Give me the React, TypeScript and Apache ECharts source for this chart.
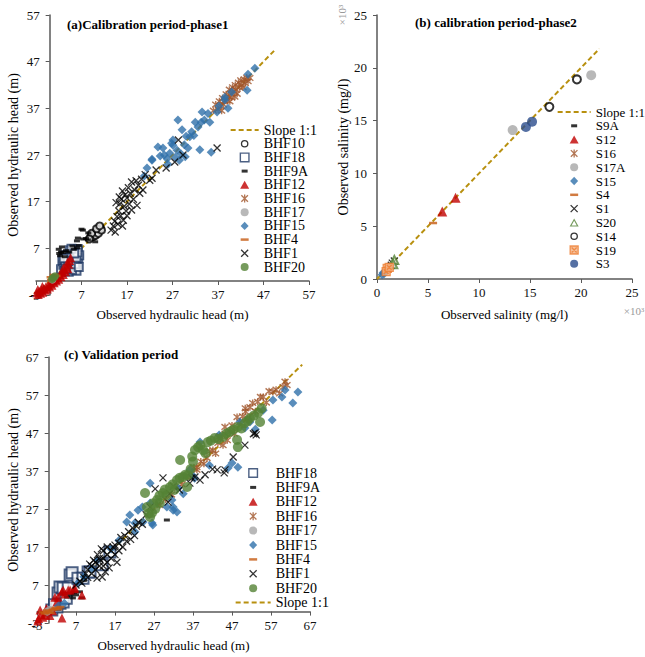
import React, { useEffect, useRef } from "react";
import * as echarts from "echarts";

type P = [number, number];

// ---------- Panel (a) calibration phase 1 ----------
const a_BHF10: P[] = [[9,9.4],[9.4,9.9],[9.8,10.1],[10.2,10.4],[10.5,10.8],[10.9,11],[11.2,11.3],[9.6,9.5],[10.1,9.8],[10.7,10.2],[11.4,10.9],[9.2,10.2],[10.3,11.2],[8.7,9],[11,11.8]];
const a_BHF18: P[] = [[2.5,2.5],[3,3.5],[3.3,2.2],[3.5,4.5],[3.8,3],[4,5.5],[4.2,2],[4.5,4],[4.7,6],[5,3],[5,5],[5.3,6.5],[5.5,2.5],[5.5,4.5],[5.8,5.8],[6,3.5],[6.2,6.8],[6.3,4.8],[4.4,6.6],[3.2,5.5],[6.5,5.5],[2.8,4.5],[5.9,2.2],[3.4,3.9],[3.9,4.9],[4.3,3.2],[4.6,5.2],[4.9,2.4],[5.2,4.2],[5.6,3.6],[5.9,5],[6.1,6.1],[4.1,4.3],[3.6,2.6],[4.8,6.9],[5.4,5.9],[6.4,3],[3.1,4.9]];
const a_BHF9A: P[] = [[2,6.8],[2.3,5.4],[2.5,6.2],[2.7,7.3],[3,6.1],[3.3,5.2],[2.1,5.9],[3.6,6.5],[4.3,6.2],[5,7.5],[5.3,6.8],[6,8.6],[6.4,7.6],[7.3,10.9],[7.4,9],[8,9.1],[8.4,8.8],[10,8.4],[6.2,9.2],[6,7.1],[8.5,10.3],[7,11.1]];
const a_BHF12: P[] = [[-2.8,-2.5],[-2.5,-2.9],[-2.3,-2.2],[-2,-2.6],[-1.8,-1.9],[-1.5,-2.4],[-1.3,-1.6],[-1,-2],[-0.8,-1.2],[-0.5,-1.7],[-0.3,-0.9],[0,-1.3],[0.2,-0.5],[0.5,-0.9],[0.7,0],[1,-0.4],[1.2,0.4],[1.5,0],[1.7,0.8],[2,0.4],[2.2,1.3],[2.5,0.9],[2.7,1.8],[3,1.4],[3.2,2.4],[3.5,2],[3.7,3],[4,2.6],[4.2,3.6],[4.4,4.4],[4.6,5],[3.9,4],[3,2.8],[-2.6,-1.8],[-1.6,-1.2]];
const a_BHF16: P[] = [[36,36.5],[36.5,37.8],[37,36.8],[37.3,38.5],[37.6,37.4],[38,39.2],[38.2,37.8],[38.5,38.6],[38.8,40],[39,38.8],[39.3,39.6],[39.5,41],[39.8,40.2],[40,39.3],[40.2,41.5],[40.5,40.6],[40.8,42],[41,41],[41.2,40.1],[41.5,42.5],[41.7,41.5],[42,43],[42.2,42],[42.5,41.5],[42.8,43.2],[43,42.4],[43.3,43.6],[43.6,42.8],[44,43.5],[37.8,36.5],[39.6,38.5],[40.7,39.5]];
const a_BHF17: P[] = [[1,0.9],[0.6,0.3]];
const a_BHF15: P[] = [[20.8,22.5],[21.4,24.2],[22.5,25.9],[22.5,26.1],[23.8,28.7],[24.9,28.5],[25.2,27],[25.8,26.2],[26.4,27.4],[26.8,29.5],[27.1,30.2],[27.1,29.1],[27.6,26.5],[28,28],[28.2,34.5],[28.5,25.9],[28.9,27.2],[29.1,32.4],[29.6,29.2],[30,31],[30.4,28.5],[30.8,30.9],[31.2,32],[31.7,31.2],[32,34],[32.6,33],[33,28.1],[33.3,34],[33.5,36.2],[34,34.5],[34.8,35.9],[35.2,34],[35.5,27.6],[36.8,36.2],[37.2,37.5],[38.5,38.8],[38.5,39.4],[39.2,37],[40,40.5],[43.4,40.9],[43.6,44.3],[45.1,45.6],[26,25],[24.3,26.8],[29.8,26.6]];
const a_BHF4: P[] = [[0.3,0.2],[0.9,1.3],[1.5,1.1],[0.2,0.8]];
const a_BHF1: P[] = [[13.5,10.9],[14,11.8],[14.3,12.8],[14.4,10.5],[14.8,13.8],[15,12.2],[15.2,15],[15.4,16.5],[15.3,18],[15.6,14],[15.8,17.5],[16,19.3],[16.2,13],[16.4,16],[16.6,18.5],[16.8,15],[17,17.8],[17,14],[17.3,20],[17.5,16.5],[17.7,18.8],[18,15.2],[18,21.2],[18.4,17.5],[18.7,19.5],[19,21.5],[19.2,16.2],[19.5,20.5],[19.8,18.8],[20.2,21.8],[20.5,19.5],[21,22.8],[22,21.6],[22.5,22],[23.4,23.8],[25.6,24.2],[27.5,25.5],[28.3,30.2],[29.3,27],[36.8,28.5],[14.6,16.8],[16,11.8]];
const a_BHF20: P[] = [[0.8,0.7],[1.2,1.0],[0.5,0.4]];
const a_slope: P[] = [[-3,-3],[49.5,49.5]];

// ---------- Panel (b) calibration phase 2 (x10^3 mg/l) ----------
const b_S9A: P[] = [[1.5,1.3]];
const b_S12: P[] = [[6.4,6.4],[7.7,7.7]];
const b_S16: P[] = [[1.3,1.2],[1.1,0.9]];
const b_S17A: P[] = [[13.3,14.1],[21,19.3]];
const b_S15: P[] = [[0.5,0.4],[0.6,0.6],[0.7,0.5]];
const b_S4: P[] = [[5.5,5.3]];
const b_S1: P[] = [[1.7,1.7],[1.4,1.3],[1.5,1.5]];
const b_S20: P[] = [[1.7,1.8],[1.6,1.4]];
const b_S14: P[] = [[16.9,16.3],[19.6,18.9]];
const b_S19: P[] = [[1.0,1.0],[0.9,0.7],[1.2,1.1]];
const b_S3: P[] = [[14.6,14.4],[15.2,14.9]];
const b_slope: P[] = [[0,0],[21.8,21.8]];

// ---------- Panel (c) validation ----------
const c_BHF18: P[] = [[0.8,0.4],[2.1,1.2],[2.9,2.2],[3.7,2.5],[2.4,4.9],[3.4,6.2],[2.9,6.5],[3.7,6.2],[5,6.2],[5.5,9.6],[6,10.2],[7.5,8.8],[8.8,8.8],[10.1,10.4],[10.6,10.4],[13.7,12.3],[15.7,15.7],[4.5,3.5],[1.5,1.8]];
const c_BHF9A: P[] = [[4.7,3.8],[5.5,4.3],[6.2,3.6],[7,4.4],[8.5,3.6],[4,4.6],[6.5,5],[8,5.2],[30.3,24.1],[9,8.2]];
const c_BHF12: P[] = [[-2.6,-1.8],[-2.2,0.4],[-2,-0.8],[-1.5,-1.5],[-1,-0.9],[-0.6,0.8],[-0.2,0.2],[0.3,-1],[1,0.2],[1.6,3.8],[2.1,2.5],[2.4,3.8],[3.4,5.2],[3.7,5.7],[3.4,-1.7],[5,5.7],[5.5,5.7],[6.5,6],[6.7,6.2],[8.5,4.4],[4.2,4.6],[-2.8,-2.5]];
const c_BHF16: P[] = [[28.5,28],[30,29.5],[31.5,30.8],[33,32.6],[34.2,33.5],[35.2,35.6],[36.3,35.4],[37.2,37.8],[38,37.3],[38,38],[39,39.5],[39.8,38.9],[40.6,40.4],[41.3,42.2],[42.1,42.5],[42.8,41.6],[43.4,44.4],[44,45.5],[44.7,43.8],[45.2,46.8],[45.8,45.1],[46.5,47.3],[47,49],[47.6,46.8],[48.3,51.2],[49,49.8],[49.7,51.4],[50.5,52.6],[51,50.8],[51.6,53.8],[52.3,54.9],[53,52.7],[53.6,55.2],[54.3,56.5],[55,56.5],[55.8,55],[56.5,58],[57.5,57.8],[58.3,58.4],[59.2,57.4],[60.1,59.1],[61.1,59.6],[60.6,60.5],[45.2,48.6],[43.9,46.2],[50.4,53.5]];
const c_BHF17: P[] = [[-0.4,0],[0.3,0.5]];
const c_BHF15: P[] = [[20,23.6],[20.8,25.4],[22.1,21],[22.1,23.3],[22.9,26.7],[24.2,23.6],[24,27.5],[26,33.8],[26,28.6],[26.5,23.3],[26.7,22.8],[30.3,27.5],[31.6,29.4],[31.9,27.5],[31.9,26.7],[32.9,26.2],[33.2,32.5],[34.5,31],[36.2,37.3],[36.7,36],[37.4,35.1],[38.8,44.6],[41.2,38.5],[46,37.8],[47,39.1],[48.5,38],[49,49.9],[50.3,48.3],[51.6,49.9],[53,48],[57.3,50.4],[57.5,55.7],[59.8,56.5],[60.6,58.3],[62.6,54.9],[63.9,57.8],[7.5,7.5],[9,9.2],[11,11.3],[12.5,13.5],[2.5,1.5],[4,2.2],[16,16.5],[18,18.7],[43.7,46.5],[55,53]];
const c_BHF4: P[] = [[-1,-0.5],[-0.5,0.3],[0,0],[0.5,-0.3],[1,0.5],[1.5,0.8],[2,1],[2.5,0.6],[3,1.2],[-1.5,-0.2]];
const c_BHF1: P[] = [[7,7],[8,8],[8.5,7.5],[9,9],[9.5,10],[10,9],[10,11],[10.5,12.5],[11,10],[11,12],[11.5,13.5],[12,11],[12,13],[12.4,8.8],[12.5,15],[13,12],[13,14],[13.2,13.6],[13.5,16.5],[13.7,9.1],[14,12],[14,14],[14,16],[14.5,10.5],[15,13],[15,15],[15,17],[15.5,11.5],[16,14],[16,16],[16.5,17],[17,15],[17,17.5],[17.5,13],[18,18],[18,16],[18.5,19.5],[19,17],[19.5,20],[20,18.5],[20.5,21],[21,19],[21.5,22],[22,20],[22.5,22.5],[23,23.5],[24,23],[25,25.5],[26,27.5],[27.3,32.3],[29.3,35.2],[30.6,28.8],[31,31],[32,33],[33.5,32],[36.2,33.8],[36.7,35.2],[37.5,35.4],[38.8,34.6],[40.1,36],[42,37.5],[43.2,37.3],[45.2,37.3],[45,36.5],[47.3,40.7],[50.3,43.8],[52.9,47],[53.2,46.5],[52.5,46.8]];
const c_BHF20: P[] = [[24.7,31.2],[25.2,27.5],[25.6,25.8],[26,24.9],[26.5,26],[26.8,28.5],[27.3,27],[27.8,29.4],[28.4,30.5],[28.5,28.6],[29.3,31.2],[29.8,32.1],[30.2,30.6],[31.1,32.8],[31.8,33.5],[32.2,32],[32.9,34.6],[33.6,35.2],[34.4,35.4],[35,36],[35.7,35.9],[35.5,32.8],[36.4,37.5],[37,39.5],[37.5,42.5],[38.3,43.3],[38.9,43.8],[39.6,42.5],[40.2,41.7],[40.8,44.6],[41.6,45],[42.6,45.7],[43.5,45.4],[44.7,46],[45.6,46.9],[46.5,47.3],[47.4,47.9],[48.3,45.2],[48.5,48.6],[48.5,43.3],[49.4,48.2],[50.3,49.6],[51,50.2],[51.6,50.9],[52.6,51.6],[53.7,52.3],[54.2,49.9],[54.6,53.5],[33.7,39.9],[36.8,40.8]];
const c_slope: P[] = [[-3,-3],[65,65]];

const HEAD_TITLE = "Observed hydraulic head (m)";
const SAL_TITLE = "Observed salinity (mg/l)";

const FONT = '"Liberation Serif", "Times New Roman", serif';
const RED = "#C00000";
const NAVY = "#1F3864";
const BROWN = "#A0552A";
const GRAY = "#A6A6A6";
const BLUE = "#2F70AA";
const ORANGE = "#C55A11";
const GREEN = "#548235";
const DKBLUE = "#2B4C8C";
const SLOPE = "#B8900F";

const STAR = "path://M1,1L9,9M9,1L1,9M5,0L5,10";
const CROSS = "path://M0,0L10,10M10,0L0,10";
const BOXX = "path://M0,0L10,0L10,10L0,10Z M2,2L8,8M8,2L2,8";

// legend icon helpers: a w x 10 box (the first two moves fix the icon's bounding box)
const IH = 10;
const box = (w: number, body: string) => `path://M0,0M${w},${IH}${body}`;
const icDash = (w: number, dw: number, dh: number) => {
  const c = w / 2, y = (IH - dh) / 2;
  return box(w, `M${c - dw / 2},${y}L${c + dw / 2},${y}L${c + dw / 2},${y + dh}L${c - dw / 2},${y + dh}Z`);
};
const icTri = (w: number) => { const c = w / 2; return box(w, `M${c - 4.5},9L${c},1L${c + 4.5},9Z`); };
const icDia = (w: number) => { const c = w / 2; return box(w, `M${c},0.8L${c + 4},5L${c},9.2L${c - 4},5Z`); };
const icSqRing = (w: number) => {
  const c = w / 2;
  return box(w, `M${c - 5},0L${c + 5},0L${c + 5},10L${c - 5},10Z M${c - 3.6},1.4L${c - 3.6},8.6L${c + 3.6},8.6L${c + 3.6},1.4Z`);
};
const icTriRing = (w: number) => {
  const c = w / 2;
  return box(w, `M${c - 4.5},9L${c},1L${c + 4.5},9Z M${c - 2.6},8L${c + 2.6},8L${c},3.4Z`);
};
const icCircle = (w: number, r = 4) => {
  const c = w / 2;
  return box(w, `M${c - r},5A${r},${r},0,1,1,${c + r},5A${r},${r},0,1,1,${c - r},5Z`);
};
const icRing = (w: number) => {
  const c = w / 2, r = 3.8, q = 2.5;
  return box(w, `M${c - r},5A${r},${r},0,1,1,${c + r},5A${r},${r},0,1,1,${c - r},5Z M${c - q},5A${q},${q},0,1,0,${c + q},5A${q},${q},0,1,0,${c - q},5Z`);
};
const icCross = (w: number) => { const c = w / 2; return box(w, `M${c - 3.5},1.5L${c + 3.5},8.5M${c + 3.5},1.5L${c - 3.5},8.5`); };
const icStar = (w: number) => { const c = w / 2; return box(w, `M${c - 3.3},1.7L${c + 3.3},8.3M${c + 3.3},1.7L${c - 3.3},8.3M${c},1L${c},9`); };
const icBoxX = (w: number) => {
  const c = w / 2;
  return box(w, `M${c - 4},1L${c + 4},1L${c + 4},9L${c - 4},9Z M${c - 2.5},2.5L${c + 2.5},7.5M${c + 2.5},2.5L${c - 2.5},7.5`);
};
const icSlope = (w: number) => {
  let d = "";
  for (let x = 0; x < w; x += 8) {
    const e = Math.min(x + 5, w);
    d += `M${x},4L${e},4L${e},6L${x},6Z`;
  }
  return box(w, d);
};

function sc(name: string, data: P[], gi: number, symbol: string, size: any, itemStyle: any) {
  return { type: "scatter", name, xAxisIndex: gi, yAxisIndex: gi, data, symbol, symbolSize: size, itemStyle, z: 3 };
}
function slope(data: P[], gi: number) {
  return {
    type: "line", name: "Slope 1:1", xAxisIndex: gi, yAxisIndex: gi, data, symbol: "none",
    lineStyle: { color: SLOPE, width: 2, type: [5, 3] }, itemStyle: { color: SLOPE }, z: 2,
  };
}
const st = (c: string, bw = 0) => (bw ? { color: c, borderColor: c, borderWidth: bw } : { color: c });

// the axis is moved (through offset) to the other axis' zero, with its labels
const zeroShift = (min: number, max: number, size: number) => (min < 0 ? -((0 - min) / (max - min)) * size : 0);

function xAx(gi: number, min: number, max: number, interval: number, name: string, gap: number, gridH: number, otherMin: number, otherMax: number) {
  return {
    type: "value", gridIndex: gi, min, max, interval, name, nameLocation: "middle", nameGap: gap,
    offset: zeroShift(otherMin, otherMax, gridH),
    nameTextStyle: { fontFamily: FONT, fontSize: 13, color: "#000" },
    axisLine: { show: true, onZero: false, lineStyle: { color: "#595959", width: 1.5 } },
    axisTick: { show: true, length: 4, lineStyle: { color: "#595959" } },
    axisLabel: { fontFamily: FONT, fontSize: 13, color: "#111", margin: 7 },
    splitLine: { show: false },
  };
}
function yAx(gi: number, min: number, max: number, interval: number, name: string, gap: number, gridW: number, otherMin: number, otherMax: number) {
  return {
    type: "value", gridIndex: gi, min, max, interval, name, nameLocation: "middle", nameGap: gap,
    offset: zeroShift(otherMin, otherMax, gridW),
    nameTextStyle: { fontFamily: FONT, fontSize: 14, color: "#000" },
    axisLine: { show: true, onZero: false, lineStyle: { color: "#595959", width: 1.5 } },
    axisTick: { show: true, length: 4, lineStyle: { color: "#595959" } },
    axisLabel: { fontFamily: FONT, fontSize: 13, color: "#111", margin: 10 },
    splitLine: { show: false },
  };
}
function legend(left: number, top: number, w: number, fs: number, gap: number, data: any[]) {
  return {
    left, top, orient: "vertical", itemWidth: w, itemHeight: IH, itemGap: gap, selectedMode: false,
    symbolKeepAspect: true,
    itemStyle: { borderWidth: 1.3 },
    textStyle: { fontFamily: FONT, fontSize: fs, color: "#000", lineHeight: 14 },
    data,
  };
}

export default function App() {
  const ref = useRef<HTMLDivElement>(null);
  useEffect(() => {
    if (!ref.current) return;
    const chart = echarts.init(ref.current, undefined, { renderer: "svg" });
    const LA = 28, LB = 33, LC = 35;
    const G = [
      { left: 36, top: 15, width: 273, height: 280 },
      { left: 377, top: 15, width: 255, height: 264 },
      { left: 37, top: 357, width: 273, height: 266 },
    ];
    const option: any = {
      animation: false,
      backgroundColor: "#fff",
      title: [
        { text: "(a)Calibration period-phase1", left: 62, top: 13, textStyle: { fontFamily: FONT, fontSize: 13, fontWeight: "bold", color: "#000" } },
        { text: "(b) calibration period-phase2", left: 410, top: 11, textStyle: { fontFamily: FONT, fontSize: 13, fontWeight: "bold", color: "#000" } },
        { text: "(c) Validation period", left: 59, top: 343, textStyle: { fontFamily: FONT, fontSize: 13, fontWeight: "bold", color: "#000" } },
      ],
      grid: G,
      xAxis: [
        xAx(0, -3, 57, 10, HEAD_TITLE, 26.5, G[0].height, -3, 57),
        xAx(1, 0, 25, 5, SAL_TITLE, 29, G[1].height, 0, 25),
        xAx(2, -3, 67, 10, HEAD_TITLE, 27, G[2].height, -3, 67),
      ],
      yAxis: [
        yAx(0, -3, 57, 10, HEAD_TITLE, 29.5, G[0].width, -3, 57),
        yAx(1, 0, 25, 5, SAL_TITLE, 26, G[1].width, 0, 25),
        yAx(2, -3, 67, 10, HEAD_TITLE, 28.5, G[2].width, -3, 67),
      ],
      legend: [
        legend(225, 118, LA, 14, -0.3, [
          { name: "Slope 1:1", icon: icSlope(LA) }, { name: "BHF10", icon: icRing(LA) }, { name: "BHF18", icon: icSqRing(LA) },
          { name: "BHF9A", icon: icDash(LA, 6, 3) }, { name: "BHF12", icon: icTri(LA) }, { name: "BHF16", icon: icStar(LA) },
          { name: "BHF17", icon: icCircle(LA) }, { name: "BHF15", icon: icDia(LA) }, { name: "BHF4", icon: icDash(LA, 8, 2.5) },
          { name: "BHF1", icon: icCross(LA) }, { name: "BHF20", icon: icCircle(LA) },
        ]),
        legend(552, 100, LB, 13, -0.2, [
          { name: "Slope 1:1", icon: icSlope(LB) }, { name: "S9A", icon: icDash(LB, 6, 3) }, { name: "S12", icon: icTri(LB) },
          { name: "S16", icon: icStar(LB) }, { name: "S17A", icon: icCircle(LB) }, { name: "S15", icon: icDia(LB) },
          { name: "S4", icon: icDash(LB, 8, 2.5) }, { name: "S1", icon: icCross(LB) }, { name: "S20", icon: icTriRing(LB) },
          { name: "S14", icon: icRing(LB) }, { name: "S19", icon: icBoxX(LB) }, { name: "S3", icon: icCircle(LB) },
        ]),
        legend(230, 461, LC, 14, 0.4, [
          { name: "BHF18", icon: icSqRing(LC) }, { name: "BHF9A", icon: icDash(LC, 6, 3) }, { name: "BHF12", icon: icTri(LC) },
          { name: "BHF16", icon: icStar(LC) }, { name: "BHF17", icon: icCircle(LC) }, { name: "BHF15", icon: icDia(LC) },
          { name: "BHF4", icon: icDash(LC, 8, 2.5) }, { name: "BHF1", icon: icCross(LC) }, { name: "BHF20", icon: icCircle(LC) },
          { name: "Slope 1:1", icon: icSlope(LC) },
        ]),
      ],
      graphic: [
        { type: "text", x: 342, y: 15, rotation: Math.PI / 2, style: { text: "×10³", fill: "#999", font: `11px ${FONT}`, align: "center", verticalAlign: "middle" } },
        { type: "text", x: 634, y: 311, style: { text: "×10³", fill: "#999", font: `11px ${FONT}`, align: "center", verticalAlign: "middle" } },
      ],
      series: [
        slope(a_slope, 0),
        sc("BHF10", a_BHF10, 0, "emptyCircle", 7, { color: "#000" }),
        sc("BHF18", a_BHF18, 0, "emptyRect", 8, { color: NAVY }),
        sc("BHF9A", a_BHF9A, 0, "rect", [6, 3], st("#000")),
        sc("BHF12", a_BHF12, 0, "triangle", 9, st(RED)),
        sc("BHF16", a_BHF16, 0, STAR, 7, st(BROWN, 1.4)),
        sc("BHF17", a_BHF17, 0, "circle", 8, st(GRAY)),
        sc("BHF15", a_BHF15, 0, "diamond", 9, st(BLUE)),
        sc("BHF4", a_BHF4, 0, "rect", [8, 2.5], st(ORANGE)),
        sc("BHF1", a_BHF1, 0, CROSS, 7, st("#000", 1.3)),
        sc("BHF20", a_BHF20, 0, "circle", 8, st(GREEN)),

        slope(b_slope, 1),
        sc("S9A", b_S9A, 1, "rect", [6, 3], st("#000")),
        sc("S12", b_S12, 1, "triangle", 10, st(RED)),
        sc("S16", b_S16, 1, STAR, 7, st(BROWN, 1.4)),
        sc("S17A", b_S17A, 1, "circle", 10, st(GRAY)),
        sc("S15", b_S15, 1, "diamond", 9, st(BLUE)),
        sc("S4", b_S4, 1, "rect", [8, 2.5], st(ORANGE)),
        sc("S1", b_S1, 1, CROSS, 7, st("#000", 1.3)),
        sc("S20", b_S20, 1, "emptyTriangle", 8, { color: GREEN }),
        sc("S14", b_S14, 1, "emptyCircle", 8, { color: "#000" }),
        sc("S19", b_S19, 1, BOXX, 8, { color: "#F4B183", borderColor: "#ED7D31", borderWidth: 1.3 }),
        sc("S3", b_S3, 1, "circle", 10, st(DKBLUE)),

        slope(c_slope, 2),
        sc("BHF18", c_BHF18, 2, "emptyRect", 11, { color: NAVY }),
        sc("BHF9A", c_BHF9A, 2, "rect", [6, 3], st("#000")),
        sc("BHF12", c_BHF12, 2, "triangle", 9, st(RED)),
        sc("BHF16", c_BHF16, 2, STAR, 7, st(BROWN, 1.4)),
        sc("BHF17", c_BHF17, 2, "circle", 8, st(GRAY)),
        sc("BHF15", c_BHF15, 2, "diamond", 9, st(BLUE)),
        sc("BHF4", c_BHF4, 2, "rect", [8, 2.5], st(ORANGE)),
        sc("BHF1", c_BHF1, 2, CROSS, 7, st("#000", 1.3)),
        sc("BHF20", c_BHF20, 2, "circle", 10, st(GREEN)),
      ],
    };
    chart.setOption(option);
    return () => chart.dispose();
  }, []);
  return <div ref={ref} style={{ position: "fixed", left: 0, top: 0, width: 645, height: 657 }} />;
}
